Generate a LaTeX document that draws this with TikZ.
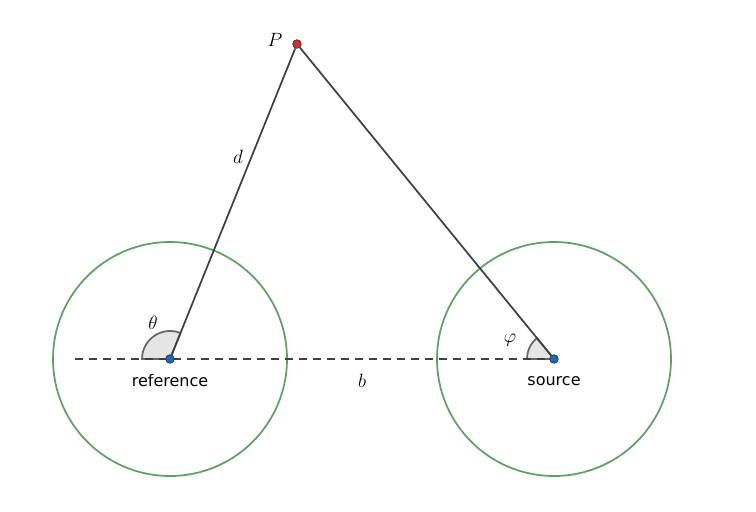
\documentclass[tikz,border=0pt]{standalone}
\usepackage{fontspec}
\usepackage{amsmath}
\newfontfamily\labelfont{DejaVu Sans}
\usetikzlibrary{positioning}
\definecolor{ringgreen}{RGB}{98,158,102}
\definecolor{ptblue}{RGB}{25,104,196}
\definecolor{ptred}{RGB}{214,44,44}
\definecolor{linegray}{RGB}{64,64,64}
\tikzset{
	ring/.style={draw=ringgreen, line width=1.3pt},
	segment/.style={draw=linegray, line width=1.3pt},
	pt/.style={circle, draw=black!80, line width=0.5pt, inner sep=0pt, minimum size=6.5pt},
	anglearc/.style={draw=linegray!80, fill=black!10, line width=1.3pt},
}
\begin{document}
\begin{tikzpicture}[x=0.75pt, y=-0.75pt]
	\useasboundingbox (0,0) rectangle (756,511);
	\coordinate (r) at (170,359);
	\coordinate (s) at (554,359);
	\coordinate (l) at (75,359);
	
	\draw[ring] (r) circle (117);
	\draw[ring] (s) circle (117);
	
	% angles
	\draw[anglearc] (r) -- ++(-28,0) arc[start angle=180, end angle=292, radius=28] -- cycle;
	\draw[anglearc] (s) -- ++(-27,0) arc[start angle=180, end angle=230.8, radius=27] -- cycle;
	
	\draw[segment, dashed, dash pattern=on 6pt off 4.5pt] (l) -- (s);
	
	\node[pt, fill=ptred] (p) at (297,44) {};
	\node[pt, fill=ptblue] (ref) at (r) {};
	\node[pt, fill=ptblue] (src) at (s) {};
	
	\draw[segment] (ref) -- (p);
	\draw[segment] (src) -- (p);
	
	\node (plabel) at (275,40) {\Large $P$};
	\node (dlabel) at (238,157) {\Large $d$};
	\node (tlabel) at (153,323) {\Large $\theta$};
	\node (flabel) at (510,340) {\Large $\varphi$};
	\node (blabel) at (362,381) {\Large $b$};
	\node (reflabel) at (170,381) {\labelfont\large reference};
	\node (srclabel) at (554,381) {\labelfont\large source};
\end{tikzpicture}
\end{document}
